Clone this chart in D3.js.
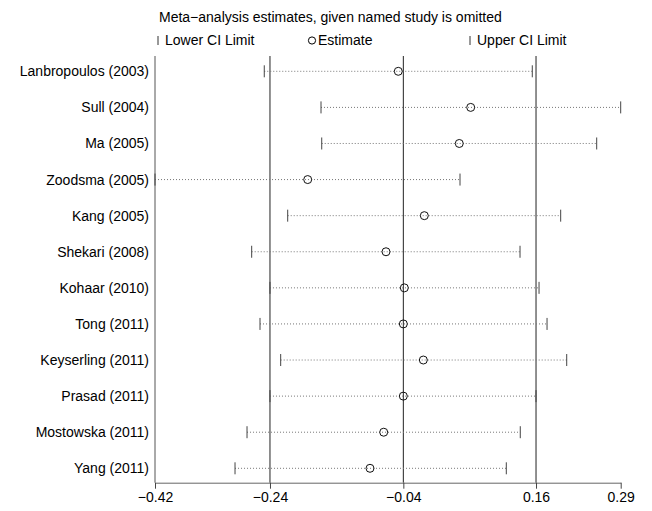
<!DOCTYPE html>
<html><head><meta charset="utf-8">
<script src="https://cdn.jsdelivr.net/npm/d3@7"></script>
<style>body{margin:0;background:#fff}svg{display:block}text{font-family:"Liberation Sans",Arial,sans-serif;font-size:14px;fill:#000}</style>
</head><body><div id="chart"></div>
<script>
const studies = ["Lanbropoulos (2003)","Sull (2004)","Ma (2005)","Zoodsma (2005)","Kang (2005)","Shekari (2008)","Kohaar (2010)","Tong (2011)","Keyserling (2011)","Prasad (2011)","Mostowska (2011)","Yang (2011)"];
const lower    = [-0.2534,-0.1669,-0.1658,-0.4200,-0.2177,-0.2726,-0.2447,-0.2599,-0.2284,-0.2447,-0.2797,-0.2980];
const estimate = [-0.0491, 0.0613, 0.0439,-0.1872,-0.0094,-0.0678,-0.0399,-0.0414,-0.0109,-0.0414,-0.0713,-0.0922];
const upper    = [ 0.1552, 0.2900, 0.2534, 0.0450, 0.1985, 0.1365, 0.1655, 0.1777, 0.2077, 0.1609, 0.1369, 0.1156];
const tickValues = [-0.42,-0.2447,-0.0414,0.1609,0.29];
const tickLabels = ["\u22120.42","\u22120.24","\u22120.04","0.16","0.29"];
const refLines = [-0.42,-0.2447,-0.0414,0.1609];
const titleText = "Meta\u2212analysis estimates, given named study is omitted";
const legendLabels = ["Lower CI Limit","Estimate","Upper CI Limit"];

const W=652,H=511;
const svg=d3.select("#chart").append("svg").attr("width",W).attr("height",H);
const x=d3.scaleLinear().domain([-0.42,0.29]).range([155,620.7]);
const y=d3.scalePoint().domain(studies).range([71.3,468.3]);
const yTop=56, yAxis=482.7;

// title and legend
svg.append("text").attr("x",159).attr("y",22).text(titleText);
const leg=svg.append("g");
leg.append("line").attr("x1",158).attr("x2",158).attr("y1",36).attr("y2",45).attr("stroke","#333");
leg.append("text").attr("x",165).attr("y",45).text(legendLabels[0]);
leg.append("circle").attr("cx",312).attr("cy",40.5).attr("r",3.6).attr("fill","none").attr("stroke","#000");
leg.append("text").attr("x",318).attr("y",45).text(legendLabels[1]);
leg.append("line").attr("x1",470).attr("x2",470).attr("y1",36).attr("y2",45).attr("stroke","#333");
leg.append("text").attr("x",477).attr("y",45).text(legendLabels[2]);

// reference lines
svg.append("g").selectAll("line").data(refLines).join("line")
  .attr("x1",d=>x(d)).attr("x2",d=>x(d)).attr("y1",yTop).attr("y2",yAxis)
  .attr("stroke",(d,i)=>i===0?"#555":"#222").attr("stroke-width",1);

// x axis
const ax=svg.append("g").attr("transform",`translate(0,${yAxis})`)
  .call(d3.axisBottom(x).tickValues(tickValues).tickFormat((d,i)=>tickLabels[i]).tickSize(6).tickSizeOuter(0));
ax.select(".domain").attr("stroke","#666");
ax.selectAll(".tick line").attr("stroke","#444");
ax.selectAll(".tick text").attr("font-size",14).attr("font-family","Liberation Sans, Arial, sans-serif").attr("dy","0.93em").attr("y",6);

// row labels
svg.append("g").selectAll("text").data(studies).join("text")
  .attr("x",149).attr("y",d=>y(d)+5).attr("text-anchor","end").text(d=>d);

// CI rows
const rows=studies.map((s,i)=>({s,lo:lower[i],est:estimate[i],hi:upper[i]}));
const g=svg.append("g");
g.selectAll("line.ci").data(rows).join("line").attr("class","ci")
  .attr("x1",d=>x(d.lo)).attr("x2",d=>x(d.hi)).attr("y1",d=>y(d.s)).attr("y2",d=>y(d.s))
  .attr("stroke","#777").attr("stroke-width",1).attr("stroke-dasharray","1,2");
g.selectAll("line.lo").data(rows).join("line").attr("class","lo")
  .attr("x1",d=>x(d.lo)).attr("x2",d=>x(d.lo)).attr("y1",d=>y(d.s)-6).attr("y2",d=>y(d.s)+6)
  .attr("stroke","#444");
g.selectAll("line.hi").data(rows).join("line").attr("class","hi")
  .attr("x1",d=>x(d.hi)).attr("x2",d=>x(d.hi)).attr("y1",d=>y(d.s)-6).attr("y2",d=>y(d.s)+6)
  .attr("stroke","#444");
g.selectAll("circle").data(rows).join("circle")
  .attr("cx",d=>x(d.est)).attr("cy",d=>y(d.s)).attr("r",4)
  .attr("fill","none").attr("stroke","#111").attr("stroke-width",1);
</script></body></html>
